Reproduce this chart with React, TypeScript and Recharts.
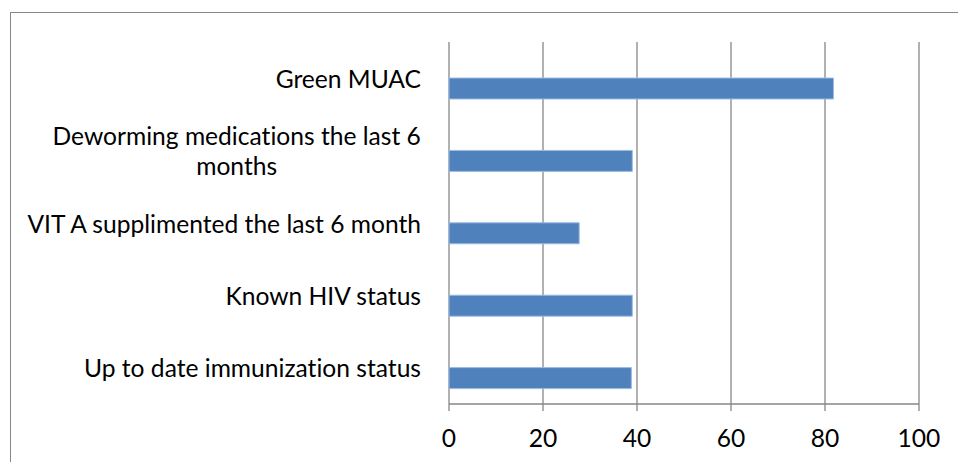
import React from 'react';
import { BarChart, Bar, XAxis, YAxis, CartesianGrid } from 'recharts';

const categories = [
  'Green MUAC',
  'Deworming medications the last 6 months',
  'VIT A supplimented the last 6 month',
  'Known HIV status',
  'Up to date immunization status',
];
const values = [81.8, 39.0, 27.7, 39.0, 38.8];
const emptySeries = [null, null, null, null, null];
const xTicks = [0, 20, 40, 60, 80, 100];
const boundaryTicks = [0, 1, 2, 3, 4, 5];

const data = categories.map((c, i) => ({ name: c, value: values[i], empty: emptySeries[i] }));

const FONT = 'Lato, "Open Sans", sans-serif';
const FONT_SIZE = 24.6;
const GRAY = '#878787';
const MAX_W = 420;
const LINE_H = 30;
const NO_LIG: React.CSSProperties = { fontVariantLigatures: 'none', fontFeatureSettings: '"liga" 0, "clig" 0' };

let ctx: CanvasRenderingContext2D | null = null;
function measure(s: string): number {
  if (!ctx) ctx = document.createElement('canvas').getContext('2d');
  if (!ctx) return s.length * FONT_SIZE * 0.5;
  ctx.font = `${FONT_SIZE}px ${FONT}`;
  return ctx.measureText(s).width;
}

function wrap(text: string, maxW: number): string[] {
  const words = text.split(' ');
  const lines: string[] = [];
  let cur = '';
  for (const w of words) {
    const t = cur ? cur + ' ' + w : w;
    if (measure(t) > maxW && cur) {
      lines.push(cur);
      cur = w;
    } else cur = t;
  }
  if (cur) lines.push(cur);
  return lines;
}

const CategoryTick = (props: any) => {
  const { x, y, payload } = props;
  const lines = wrap(String(payload.value), MAX_W);
  const right = x - 28;
  const widest = Math.max(...lines.map(measure));
  const multi = lines.length > 1;
  const startY = y - ((lines.length - 1) * LINE_H) / 2;
  return (
    <g>
      {lines.map((l, i) => (
        <text
          key={i}
          x={multi ? right - widest / 2 : right}
          y={startY + i * LINE_H}
          textAnchor={multi ? 'middle' : 'end'}
          dominantBaseline="central"
          fill="#000"
          fontFamily={FONT}
          fontSize={FONT_SIZE}
          style={NO_LIG}
        >
          {l}
        </text>
      ))}
    </g>
  );
};

export default function App() {
  return (
    <div style={{ position: 'absolute', left: 0, top: 0, width: 958, height: 462, overflow: 'hidden', background: '#fff' }}>
      <div
        style={{
          position: 'absolute',
          left: 10,
          top: 12,
          width: 980,
          height: 480,
          border: `1px solid ${GRAY}`,
        }}
      />
      <div style={{ position: 'absolute', left: 0, top: 0 }}>
        <BarChart
          width={958}
          height={462}
          data={data}
          layout="vertical"
          margin={{ top: 42, right: 39, bottom: 8, left: 0 }}
          barSize={21}
          barGap={0}
        >
          <CartesianGrid horizontal={false} stroke={GRAY} strokeWidth={1.3} />
          <XAxis
            type="number"
            domain={[0, 100]}
            ticks={xTicks}
            interval={0}
            axisLine={{ stroke: GRAY, strokeWidth: 1.3 }}
            tickLine={{ stroke: GRAY, strokeWidth: 1.3 }}
            tickSize={7}
            tickMargin={19}
            height={50}
            tick={{ fill: '#000', fontFamily: FONT, fontSize: FONT_SIZE }}
          />
          <YAxis
            yAxisId="b"
            type="number"
            domain={[0, 5]}
            ticks={boundaryTicks}
            tick={false}
            width={0}
            tickSize={7}
            axisLine={{ stroke: GRAY, strokeWidth: 1.3 }}
            tickLine={{ stroke: GRAY, strokeWidth: 1.3 }}
          />
          <YAxis
            type="category"
            dataKey="name"
            width={449}
            interval={0}
            axisLine={false}
            tickLine={false}
            tickSize={0}
            tickMargin={0}
            tick={<CategoryTick />}
          />
          <Bar dataKey="empty" fill="#C0504D" isAnimationActive={false} />
          <Bar dataKey="value" fill="#4F81BD" stroke="#9DBBE0" strokeWidth={1} isAnimationActive={false} />
        </BarChart>
      </div>
    </div>
  );
}
